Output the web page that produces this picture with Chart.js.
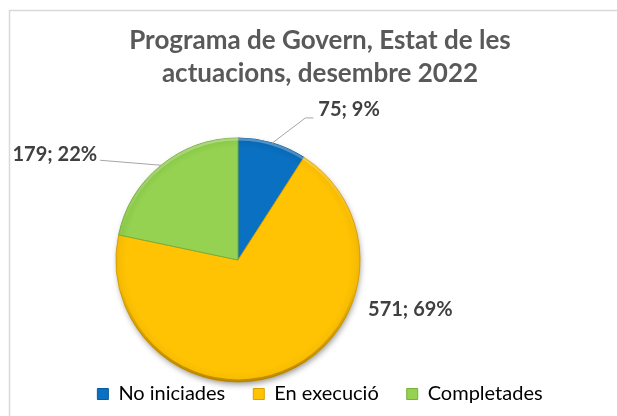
<!DOCTYPE html>
<html>
<head>
<meta charset="utf-8">
<script src="https://cdn.jsdelivr.net/npm/chart.js@4/dist/chart.umd.min.js"></script>
<style>
  html, body { margin: 0; padding: 0; background: #ffffff; }
  #wrap { position: relative; width: 617px; height: 416px; }
</style>
</head>
<body>
<div id="wrap"><canvas id="c" width="617" height="416"></canvas></div>
<script>
// Actuacions del Programa de Govern per estat
const categories = ['No iniciades', 'En execució', 'Completades'];
const values = [75, 571, 179];
const titleLines = ['Programa de Govern, Estat de les', 'actuacions, desembre 2022'];

// Slice colours: base, rim shade, border
const baseColors = ['#0A70C2', '#FFC304', '#95D252'];
const rimColors = ['#0865AF', '#F4B800', '#88C646'];
const edgeColors = ['#075A9E', '#D9A000', '#76B03A'];

// Plot geometry of the pie
const PIE = { cx: 238, cy: 260, r: 122 };

// Data label placement, relative to the outer edge point at each slice's mid angle
const labelPlacement = [
  { line: [[33, -25], [41, -25]], text: [46, -33], align: 'left' },
  { line: null, text: [83, -63], align: 'left' },
  { line: [[-61, -5]], text: [-64, -11], align: 'right' }
];

const total = values.reduce((a, b) => a + b, 0);

function sliceFill(ctx) {
  const c = ctx.chart.ctx;
  const i = ctx.dataIndex;
  const g = c.createRadialGradient(PIE.cx, PIE.cy, 0, PIE.cx, PIE.cy, PIE.r);
  g.addColorStop(0, baseColors[i]);
  g.addColorStop(0.92, baseColors[i]);
  g.addColorStop(1, rimColors[i]);
  return g;
}

const frame = {
  id: 'frame',
  beforeDraw(chart) {
    const c = chart.ctx;
    c.save();
    c.fillStyle = '#ffffff';
    c.fillRect(0, 0, chart.width, chart.height);
    c.strokeStyle = '#d9d9d9';
    c.lineWidth = 1.5;
    c.strokeRect(9.5, 10.5, chart.width + 20, chart.height + 20);
    c.restore();
  }
};

const pieArea = {
  id: 'pieArea',
  afterLayout(chart) {
    const pad = 4;
    chart.chartArea.left = PIE.cx - PIE.r - pad;
    chart.chartArea.right = PIE.cx + PIE.r + pad;
    chart.chartArea.top = PIE.cy - PIE.r - pad;
    chart.chartArea.bottom = PIE.cy + PIE.r + pad;
    chart.chartArea.width = 2 * (PIE.r + pad);
    chart.chartArea.height = 2 * (PIE.r + pad);
  }
};

const pieShade = {
  id: 'pieShade',
  beforeDatasetsDraw(chart) {
    const arc = chart.getDatasetMeta(0).data[0];
    if (!arc) return;
    const c = chart.ctx;
    c.save();
    c.shadowColor = 'rgba(0,0,0,0.45)';
    c.shadowBlur = 6;
    c.shadowOffsetX = 1;
    c.shadowOffsetY = 3;
    c.beginPath();
    c.arc(arc.x, arc.y, arc.outerRadius - 1, 0, Math.PI * 2);
    c.fillStyle = '#9a9a9a';
    c.fill();
    c.restore();
  },
  afterDatasetsDraw(chart) {
    const arc = chart.getDatasetMeta(0).data[0];
    if (!arc) return;
    const c = chart.ctx;
    const r = arc.outerRadius;
    c.save();
    c.beginPath();
    c.arc(arc.x, arc.y, r, 0, Math.PI * 2);
    c.clip();
    const g = c.createLinearGradient(0, arc.y - r, 0, arc.y + r);
    g.addColorStop(0, 'rgba(255,255,255,0.30)');
    g.addColorStop(0.35, 'rgba(255,255,255,0.06)');
    g.addColorStop(0.6, 'rgba(0,0,0,0.0)');
    g.addColorStop(1, 'rgba(90,50,0,0.35)');
    c.strokeStyle = g;
    c.lineWidth = 5;
    c.beginPath();
    c.arc(arc.x, arc.y, r, 0, Math.PI * 2);
    c.stroke();
    c.restore();
  }
};

const sliceLabels = {
  id: 'sliceLabels',
  afterDatasetsDraw(chart) {
    const meta = chart.getDatasetMeta(0);
    const c = chart.ctx;
    c.save();
    c.font = 'bold 20px Lato';
    c.fillStyle = '#404040';
    c.textBaseline = 'middle';
    meta.data.forEach((arc, i) => {
      const p = arc.getProps(['x', 'y', 'startAngle', 'endAngle', 'outerRadius'], true);
      const mid = (p.startAngle + p.endAngle) / 2;
      const ax = p.x + Math.cos(mid) * p.outerRadius;
      const ay = p.y + Math.sin(mid) * p.outerRadius;
      const place = labelPlacement[i];
      if (place.line) {
        c.beginPath();
        c.moveTo(ax, ay);
        place.line.forEach(([dx, dy]) => c.lineTo(ax + dx, ay + dy));
        c.strokeStyle = '#a6a6a6';
        c.lineWidth = 1;
        c.stroke();
      }
      const v = values[i];
      const txt = v + '; ' + Math.round(v / total * 100) + '%';
      c.textAlign = place.align;
      c.fillText(txt, ax + place.text[0], ay + place.text[1]);
    });
    c.restore();
  }
};

new Chart(document.getElementById('c'), {
  type: 'pie',
  data: {
    labels: categories,
    datasets: [{
      data: values,
      backgroundColor: sliceFill,
      borderColor: edgeColors,
      borderWidth: 1,
      radius: PIE.r,
      clip: false
    }]
  },
  options: {
    responsive: false,
    animation: false,
    radius: PIE.r,
    layout: { padding: { left: 23, right: 0, top: 0, bottom: 2 } },
    plugins: {
      tooltip: { enabled: false },
      title: {
        display: true,
        text: titleLines,
        color: '#595959',
        font: { family: 'Lato', size: 26, weight: 'bold', lineHeight: 1.27 },
        padding: { top: 24, bottom: 0 }
      },
      legend: {
        position: 'bottom',
        labels: {
          color: '#404040',
          font: { family: 'Lato', size: 20 },
          boxWidth: 11,
          boxHeight: 11,
          padding: 28,
          generateLabels(chart) {
            return categories.map((name, i) => ({
              text: name,
              fillStyle: baseColors[i],
              strokeStyle: edgeColors[i],
              lineWidth: 1,
              hidden: false,
              index: i
            }));
          }
        }
      }
    }
  },
  plugins: [frame, pieArea, pieShade, sliceLabels]
});
</script>
</body>
</html>
